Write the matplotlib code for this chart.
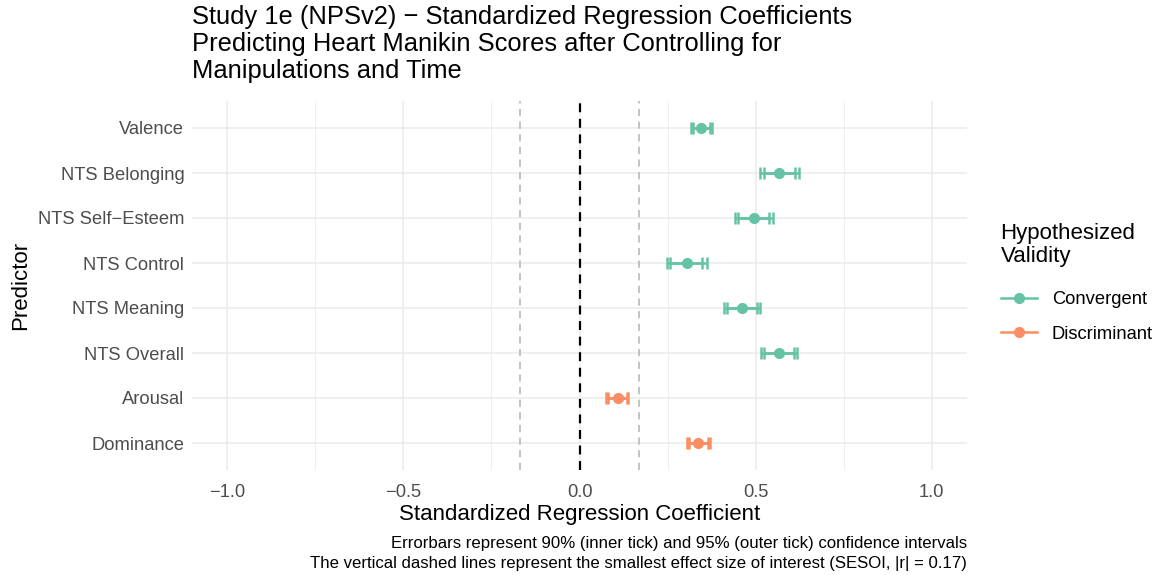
import matplotlib
matplotlib.use("Agg")
import matplotlib.pyplot as plt
from matplotlib.lines import Line2D

plt.rcParams['font.family'] = ['Liberation Sans', 'DejaVu Sans']

predictors = ["Valence", "NTS Belonging", "NTS Self\u2212Esteem", "NTS Control",
              "NTS Meaning", "NTS Overall", "Arousal", "Dominance"]
validity = ["Convergent"] * 6 + ["Discriminant"] * 2
estimate = [0.345, 0.567, 0.495, 0.304, 0.461, 0.566, 0.108, 0.335]
ci90_lo = [0.322, 0.523, 0.451, 0.257, 0.419, 0.524, 0.080, 0.310]
ci90_hi = [0.370, 0.613, 0.537, 0.349, 0.505, 0.608, 0.134, 0.364]
ci95_lo = [0.316, 0.513, 0.440, 0.247, 0.409, 0.515, 0.074, 0.304]
ci95_hi = [0.375, 0.622, 0.549, 0.361, 0.513, 0.617, 0.139, 0.370]
sesoi = 0.17
colors = {"Convergent": "#66C2A5", "Discriminant": "#FC8D62"}

fig = plt.figure(figsize=(11.58, 5.75), dpi=100)
ax = fig.add_axes([192/1158, 1-470/575, (967-192)/1158, (470-101)/575])

n = len(predictors)
ypos = list(range(n - 1, -1, -1))

ax.set_xlim(-1.1, 1.1)
ax.set_ylim(-0.6, n - 1 + 0.6)

# grid
for x in [-1, -0.5, 0, 0.5, 1]:
    ax.axvline(x, color="#EBEBEB", lw=1.1, zorder=0)
for x in [-0.75, -0.25, 0.25, 0.75]:
    ax.axvline(x, color="#EBEBEB", lw=0.55, zorder=0)
for y in ypos:
    ax.axhline(y, color="#EBEBEB", lw=1.1, zorder=0)

ax.axvline(0, color="black", lw=1.6, ls=(0, (4, 3)), zorder=1)
ax.axvline(-sesoi, color="#BEBEBE", lw=1.3, ls=(0, (4, 3)), zorder=1)
ax.axvline(sesoi, color="#BEBEBE", lw=1.3, ls=(0, (4, 3)), zorder=1)

for i in range(n):
    c = colors[validity[i]]
    y = ypos[i]
    ax.errorbar(estimate[i], y,
                xerr=[[estimate[i] - ci95_lo[i]], [ci95_hi[i] - estimate[i]]],
                fmt="none", ecolor=c, elinewidth=1.8, capsize=4, capthick=1.8, zorder=2)
    ax.errorbar(estimate[i], y,
                xerr=[[estimate[i] - ci90_lo[i]], [ci90_hi[i] - estimate[i]]],
                fmt="none", ecolor=c, elinewidth=1.8, capsize=4, capthick=1.8, zorder=2)
    ax.plot(estimate[i], y, "o", color=c, ms=7, zorder=3)

ax.set_xticks([-1, -0.5, 0, 0.5, 1])
ax.set_xticklabels(["\u22121.0", "\u22120.5", "0.0", "0.5", "1.0"])
ax.set_yticks(ypos)
ax.set_yticklabels(predictors)
ax.tick_params(axis="both", length=0, labelsize=13.2, colors="#4D4D4D")
ax.tick_params(axis="x", pad=10)
ax.tick_params(axis="y", pad=5.5)
for s in ax.spines.values():
    s.set_visible(False)

ax.set_xlabel("Standardized Regression Coefficient", fontsize=16, labelpad=2)
ax.set_ylabel("Predictor", fontsize=16, labelpad=5)

fig.text(192/1158, 1-5/575,
         "Study 1e (NPSv2) \u2212 Standardized Regression Coefficients\n"
         "Predicting Heart Manikin Scores after Controlling for\n"
         "Manipulations and Time",
         ha="left", va="top", fontsize=18.4, linespacing=1.16)

fig.text(967/1158, 1-553.5/575,
         "Errorbars represent 90% (inner tick) and 95% (outer tick) confidence intervals\n"
         "The vertical dashed lines represent the smallest effect size of interest (SESOI, |r| = 0.17)",
         ha="right", va="center", fontsize=12.1, linespacing=1.36)

handles = [Line2D([0], [0], color=colors[k], lw=1.8, marker="o", ms=7) for k in ["Convergent", "Discriminant"]]
leg = fig.legend(handles, ["Convergent", "Discriminant"], title="Hypothesized\nValidity",
                 loc="center left", bbox_to_anchor=(984/1158, 1-283/575), frameon=False,
                 fontsize=13.2, title_fontsize=16, handlelength=2.0, labelspacing=0.95,
                 handletextpad=0.8)
leg._legend_box.align = "left"
leg._legend_box.sep = 17.5
leg.get_title().set_linespacing(1.08)

fig.savefig("out.png", dpi=100)
